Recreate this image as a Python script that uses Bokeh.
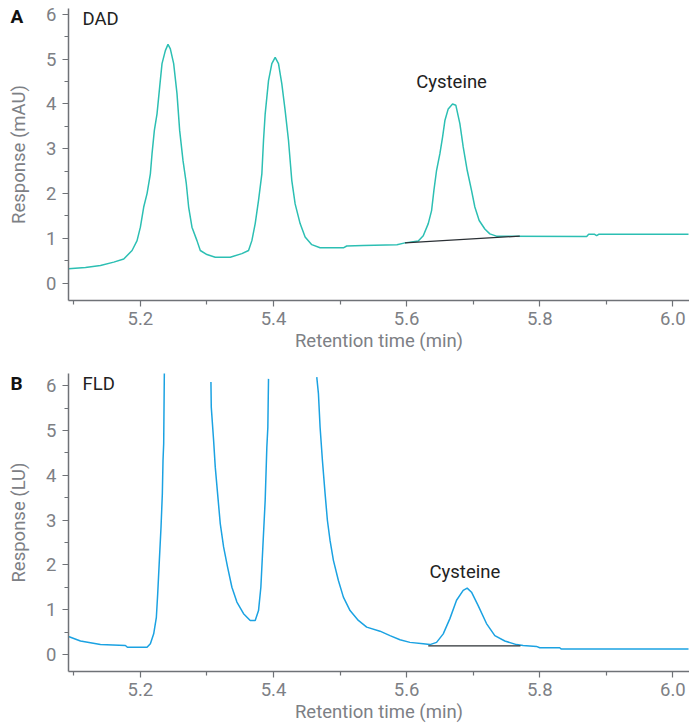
import math
from bokeh.plotting import figure
from bokeh.layouts import column
from bokeh.models import Range1d, FixedTicker, Label, PrintfTickFormatter
from bokeh.embed import file_html
from bokeh.resources import INLINE

# ---------------- data ----------------
# Panel A: DAD trace (retention time in min, response in mAU)
dad_time = [5.092, 5.1175, 5.140, 5.160, 5.175, 5.1875, 5.195, 5.200, 5.205, 5.210,
            5.215, 5.2175, 5.221, 5.225, 5.229, 5.2325, 5.2375, 5.2415, 5.245, 5.250,
            5.255, 5.259, 5.264, 5.269, 5.2725, 5.2775, 5.285, 5.290, 5.300, 5.3125,
            5.335, 5.3525, 5.3625, 5.3675, 5.3725, 5.3775, 5.3825, 5.385, 5.3875, 5.3925,
            5.3975, 5.4025, 5.4075, 5.4125, 5.4175, 5.4225, 5.4275, 5.4325, 5.440, 5.4475,
            5.4575, 5.470, 5.505, 5.510, 5.5345, 5.5855, 5.5975, 5.6175, 5.625, 5.6325,
            5.6375, 5.641, 5.645, 5.650, 5.654, 5.6575, 5.6625, 5.669, 5.674, 5.680,
            5.685, 5.691, 5.6975, 5.7025, 5.709, 5.7175, 5.725, 5.735, 5.8705, 5.8735,
            5.8825, 5.8855, 5.8885, 6.0235]
dad_resp = [0.32, 0.35, 0.395, 0.47, 0.54, 0.73, 0.95, 1.25, 1.70, 2.00,
            2.44, 2.89, 3.41, 3.78, 4.38, 4.90, 5.19, 5.33, 5.23, 4.90,
            4.23, 3.41, 2.74, 2.22, 1.70, 1.25, 0.95, 0.73, 0.64, 0.58,
            0.58, 0.66, 0.73, 0.95, 1.33, 1.85, 2.44, 3.19, 3.78, 4.52,
            4.90, 5.04, 4.90, 4.45, 3.85, 3.19, 2.29, 1.77, 1.33, 1.03,
            0.86, 0.79, 0.79, 0.83, 0.84, 0.86, 0.90, 0.94, 1.06, 1.33,
            1.62, 2.07, 2.52, 2.89, 3.26, 3.63, 3.89, 4.00, 3.97, 3.56,
            3.04, 2.52, 2.07, 1.70, 1.40, 1.21, 1.10, 1.05, 1.04, 1.09,
            1.09, 1.06, 1.09, 1.09]
dad_base_time = [5.5975, 5.770]
dad_base_resp = [0.90, 1.05]

# Panel B: FLD trace (response in LU), three visible pieces (off-scale peaks cut)
fld_time_1 = [5.092, 5.110, 5.140, 5.1775, 5.1805, 5.210, 5.215, 5.220, 5.224, 5.226,
              5.2285, 5.231, 5.233, 5.234, 5.235, 5.236]
fld_resp_1 = [0.40, 0.30, 0.22, 0.20, 0.16, 0.16, 0.24, 0.46, 0.83, 1.35,
              2.10, 2.84, 3.59, 4.33, 4.70, 6.30]
fld_time_2 = [5.306, 5.3065, 5.310, 5.3125, 5.316, 5.320, 5.325, 5.331, 5.3375, 5.345,
              5.355, 5.365, 5.3725, 5.3775, 5.381, 5.384, 5.3875, 5.390, 5.3915, 5.3925]
fld_resp_2 = [6.08, 5.52, 4.78, 4.18, 3.59, 2.92, 2.40, 1.95, 1.50, 1.17,
              0.91, 0.76, 0.76, 0.98, 1.50, 2.40, 3.44, 4.63, 5.07, 6.15]
fld_time_3 = [5.465, 5.4675, 5.470, 5.4735, 5.4775, 5.481, 5.485, 5.490, 5.4975, 5.505,
              5.515, 5.5275, 5.540, 5.560, 5.575, 5.590, 5.605, 5.625, 5.635, 5.645,
              5.655, 5.665, 5.675, 5.685, 5.691, 5.6975, 5.7075, 5.720, 5.7325, 5.7475,
              5.765, 5.775, 5.795, 5.800, 5.830, 5.8325, 6.0235]
fld_resp_3 = [6.19, 5.82, 5.07, 4.33, 3.59, 2.99, 2.54, 2.10, 1.65, 1.28,
              0.98, 0.76, 0.61, 0.52, 0.42, 0.33, 0.27, 0.24, 0.22, 0.27,
              0.46, 0.80, 1.21, 1.43, 1.48, 1.39, 1.09, 0.69, 0.42, 0.30,
              0.22, 0.20, 0.18, 0.15, 0.15, 0.12, 0.12]
fld_base_time = [5.6325, 5.771]
fld_base_resp = [0.19, 0.19]

x_major = [5.2, 5.4, 5.6, 5.8, 6.0]
x_minor = [5.1, 5.3, 5.5, 5.7, 5.9]
y_major = [0, 1, 2, 3, 4, 5, 6]
y_minor = [0.5, 1.5, 2.5, 3.5, 4.5, 5.5]

FONT = "Roboto"
AXIS_COLOR = "#6f7277"
TICK_TEXT = "#7d8085"
TEAL = "#2cbfb3"
BLUE = "#1ba2e2"
FS = "18.5px"


def make_fig(height, top, bottom, ylo, yhi):
    p = figure(width=689, height=height, output_backend="svg", toolbar_location=None,
               x_range=Range1d(5.092, 6.025), y_range=Range1d(ylo, yhi),
               min_border_left=68, min_border_right=0, min_border_top=top,
               min_border_bottom=bottom)
    p.outline_line_color = None
    p.xgrid.visible = False
    p.ygrid.visible = False
    p.xaxis.ticker = FixedTicker(ticks=x_major, minor_ticks=x_minor)
    p.yaxis.ticker = FixedTicker(ticks=y_major, minor_ticks=y_minor)
    p.xaxis.formatter = PrintfTickFormatter(format="%.1f")
    p.xaxis.axis_label = "Retention time (min)"
    for ax in (p.xaxis[0], p.yaxis[0]):
        ax.axis_line_color = AXIS_COLOR
        ax.axis_line_width = 1.5
        ax.major_tick_line_color = AXIS_COLOR
        ax.minor_tick_line_color = AXIS_COLOR
        ax.major_tick_line_width = 1.2
        ax.minor_tick_line_width = 1.2
        ax.major_tick_out = 6
        ax.major_tick_in = 0
        ax.minor_tick_out = 4
        ax.minor_tick_in = 0
        ax.major_label_text_font = FONT
        ax.major_label_text_font_size = FS
        ax.major_label_text_color = TICK_TEXT
        ax.axis_label_text_font = FONT
        ax.axis_label_text_font_size = FS
        ax.axis_label_text_font_style = "normal"
        ax.axis_label_text_color = TICK_TEXT
    p.xaxis.axis_label_standoff = 2
    p.xaxis.major_label_standoff = 5
    p.yaxis.major_label_standoff = 6
    return p


def side_text(text, x, y, bold=False, angle=0.0, color="#111111", align="left"):
    return Label(x=x, y=y, x_units="canvas", y_units="canvas", text=text, angle=angle,
                 text_font=FONT, text_font_size=FS if not bold else "19px",
                 text_font_style="bold" if bold else "normal",
                 text_color=color, text_baseline="middle", text_align=align)


# ---------- Panel A ----------
pa = make_fig(360, 8, 60, -0.386, 6.13)
pa.line(dad_time, dad_resp, line_color=TEAL, line_width=1.5)
pa.line(dad_base_time, dad_base_resp, line_color="#2b3035", line_width=1.3)
pa.add_layout(Label(x=5.113, y=5.89, text="DAD", text_font=FONT, text_font_size=FS,
                    text_color="#222222", text_baseline="middle"))
pa.add_layout(Label(x=5.6675, y=4.49, text="Cysteine", text_font=FONT,
                    text_font_size=FS, text_color="#222222",
                    text_align="center", text_baseline="middle"))
pa.add_layout(side_text("Response (mAU)", 18, 154, angle=math.pi / 2,
                        color=TICK_TEXT, align="center"), "left")
pa.add_layout(side_text("A", 10, 16, bold=True), "left")

# ---------- Panel B ----------
pb = make_fig(365, 13, 54, -0.38, 6.27)
pb.line(fld_time_1, fld_resp_1, line_color=BLUE, line_width=1.5)
pb.line(fld_time_2, fld_resp_2, line_color=BLUE, line_width=1.5)
pb.line(fld_time_3, fld_resp_3, line_color=BLUE, line_width=1.5)
pb.line(fld_base_time, fld_base_resp, line_color="#2b3035", line_width=1.3)
pb.add_layout(Label(x=5.113, y=6.04, text="FLD", text_font=FONT, text_font_size=FS,
                    text_color="#222222", text_baseline="middle"))
pb.add_layout(Label(x=5.6875, y=1.84, text="Cysteine", text_font=FONT,
                    text_font_size=FS, text_color="#222222",
                    text_align="center", text_baseline="middle"))
pb.add_layout(side_text("Response (LU)", 18, 162, angle=math.pi / 2,
                        color=TICK_TEXT, align="center"), "left")
pb.add_layout(side_text("B", 10, 22.5, bold=True), "left")

layout = column(pa, pb, spacing=0)
open("out.html", "w").write(file_html(layout, INLINE))
